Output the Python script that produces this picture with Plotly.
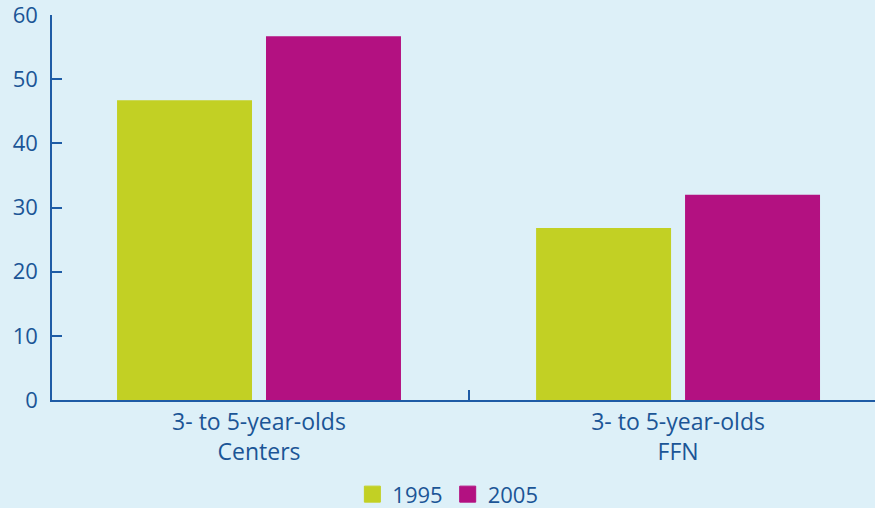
import plotly.graph_objects as go

categories = ["3- to 5-year-olds<br>Centers", "3- to 5-year-olds<br>FFN"]
series_names = ["1995", "2005"]
values_1995 = [46.7, 26.8]
values_2005 = [56.7, 32.0]
y_ticks = [0, 10, 20, 30, 40, 50, 60]

bg = "#ddf0f8"
text_col = "#1b5596"
axis_col = "#1e5ca6"
colors = ["#c2d024", "#b31181"]
font_family = "'Open Sans', Lato, sans-serif"

fig = go.Figure()
for name, vals, col in zip(series_names, [values_1995, values_2005], colors):
    fig.add_trace(go.Bar(x=categories, y=vals, name=name, marker_color=col,
                         marker_line_width=0, showlegend=False))
    fig.add_trace(go.Scatter(x=[None], y=[None], mode="markers", name=name,
                             marker=dict(symbol="square", size=16, color=col,
                                         line=dict(width=1, color=col))))

fig.update_layout(
    width=875, height=508,
    margin=dict(l=52, r=0, t=15, b=108, autoexpand=False),
    paper_bgcolor=bg, plot_bgcolor=bg,
    font=dict(family=font_family, size=22, color=text_col),
    barmode="group", bargap=0.289, bargroupgap=0.094,
    legend=dict(orientation="h", x=0.481, xanchor="center", y=-0.245, yanchor="middle",
                font=dict(size=22, color=text_col), itemwidth=30,
                bgcolor="rgba(0,0,0,0)"),
    xaxis=dict(range=[-0.494, 1.470], showline=True, linecolor=axis_col, linewidth=2,
               ticks="inside", tickson="boundaries", ticklen=10, tickcolor=axis_col,
               tickwidth=1.5, showgrid=False, tickfont=dict(size=23, color=text_col),
               automargin=False, fixedrange=True),
    yaxis=dict(range=[0, 60], tickvals=y_ticks, showline=True, linecolor=axis_col,
               linewidth=1.5, ticks="inside", ticklen=10, tickcolor=axis_col,
               tickwidth=1.5, showgrid=False, zeroline=False, automargin=False,
               ticklabeloverflow="allow",
               tickfont=dict(size=22, color=text_col), ticklabelstandoff=8),
)

fig.write_html("out.html", config={"displayModeBar": False},
               post_script="document.body.style.margin='0';document.body.style.overflow='hidden';")
